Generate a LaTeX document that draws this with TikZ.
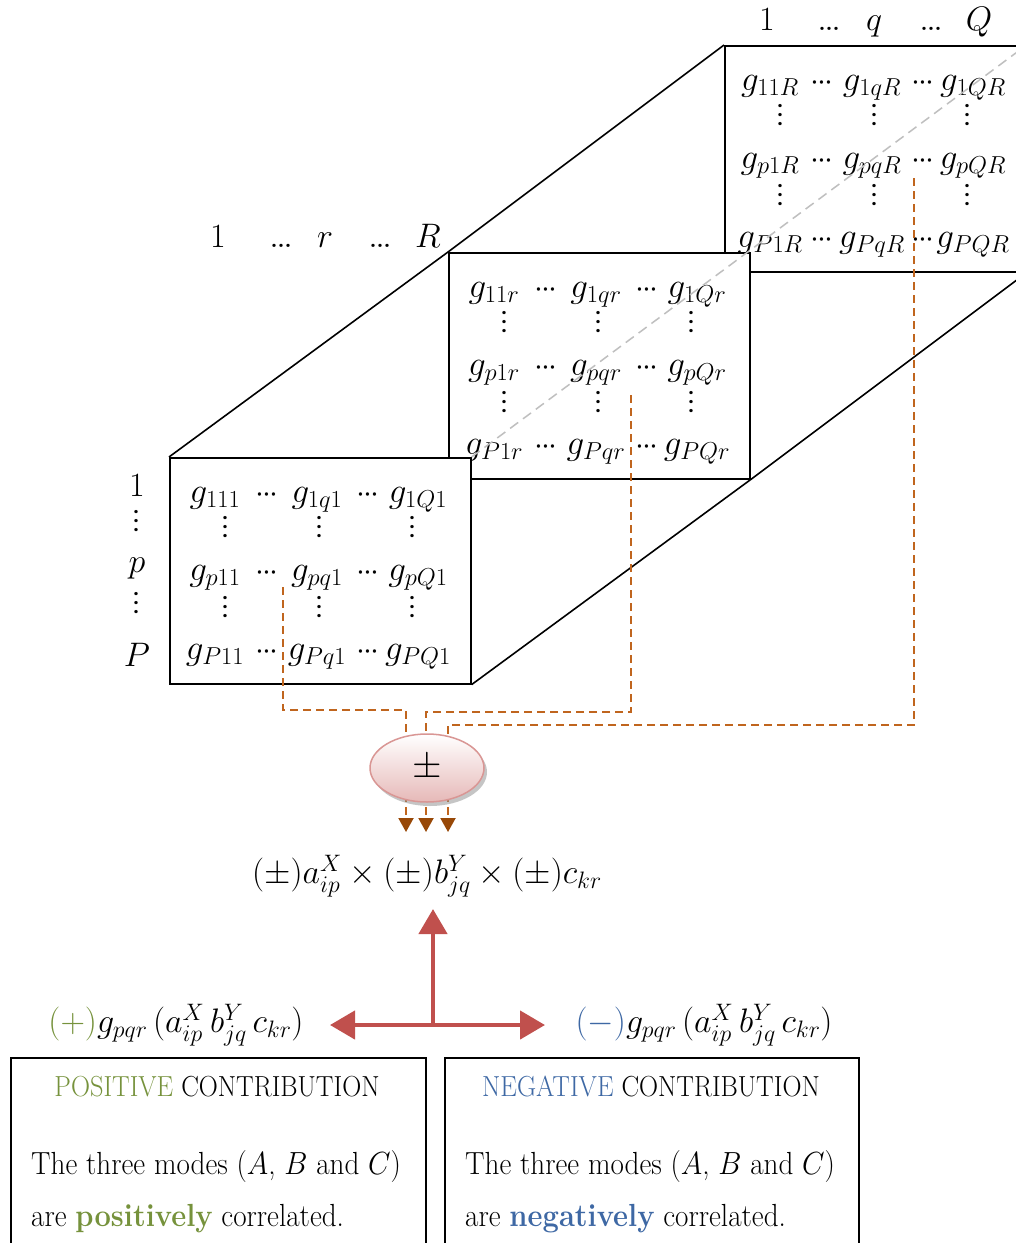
\RequirePackage{fix-cm}
\documentclass[tikz,border=0pt]{standalone}
\usepackage{fontspec}
\usetikzlibrary{arrows.meta,shadows,calc,shapes.geometric}
\definecolor{brownL}{HTML}{C0651E}
\definecolor{brownD}{HTML}{984807}
\definecolor{redA}{HTML}{C0504D}
\definecolor{posG}{HTML}{76923C}
\definecolor{negB}{HTML}{3E68A4}
\definecolor{pinkB}{HTML}{D99694}
\definecolor{pinkF}{HTML}{E6B9B8}
\newcommand\hd{{\fontsize{32}{34}\selectfont$\mathord{\cdot}\kern-1.6pt\mathord{\cdot}\kern-1.6pt\mathord{\cdot}$}}
\newcommand\vd{\rotatebox{90}{$\mathord{\cdot}\kern0.6pt\mathord{\cdot}\kern0.6pt\mathord{\cdot}$}}
\newcommand\ld{{\fontsize{40}{40}\selectfont .\kern-3pt.\kern-3pt.}}
\newcommand\sq[1]{\scalebox{0.91}[1]{#1}}
\tikzset{
  box/.style={draw, line width=1.6pt, fill=white, inner sep=0pt, anchor=north west,
    minimum width=301pt, minimum height=226pt},
  ent/.style={inner sep=0pt, anchor=base, font=\fontsize{35}{40}\selectfont},
  dts/.style={inner sep=0pt, font=\fontsize{32}{38}\selectfont},
  lab/.style={inner sep=0pt, anchor=base, font=\fontsize{34}{40}\selectfont},
  edg/.style={line width=1.6pt},
  hid/.style={draw=black!25, line width=1.5pt, dash pattern=on 10pt off 6pt},
  brl/.style={draw=brownL, line width=2pt, dash pattern=on 8pt off 5pt},
  brarr/.style={brl, -{Triangle[length=14pt,width=15pt,color=brownD]}},
  redarr/.style={draw=redA, line width=4.5pt},
  rtip/.tip={Triangle[length=25pt,width=28pt,color=redA]},
  fml/.style={inner sep=0pt, font=\fontsize{34}{40}\selectfont},
  cbox/.style={draw, line width=1.6pt, anchor=north west, inner sep=0pt,
    minimum height=230pt},
  ttl/.style={inner sep=0pt, anchor=base, font=\fontsize{29}{34}\selectfont},
  bod/.style={inner sep=0pt, anchor=base west, font=\fontsize{32}{38}\selectfont},
}
\newcommand\gblock[4]{%
  \node[box] (#1) at (#2,#3) {};
  \foreach \rn/\dy/\ri in {a/45/1,b/123/p,c/202/P}{
    \node[ent] (#1\rn c1) at ($(#1.north west)+(46,\dy)$) {$g_{\ri 1#4}$};
    \node[ent] (#1\rn h1) at ($(#1.north west)+(98,\dy)$) {\hd};
    \node[ent] (#1\rn c2) at ($(#1.north west)+(148,\dy)$) {$g_{\ri q#4}$};
    \node[ent] (#1\rn h2) at ($(#1.north west)+(199,\dy)$) {\hd};
    \node[ent] (#1\rn c3) at ($(#1.north west)+(249,\dy)$) {$g_{\ri Q#4}$};
  }
  \foreach \vn/\dy in {v1/70,v2/150}{
    \foreach \cn/\dx in {a/57,b/151,c/244}{
      \node[dts] (#1\vn\cn) at ($(#1.north west)+(\dx,\dy)$) {\vd};
    }
  }
}
\begin{document}
\begin{tikzpicture}[x=1pt,y=-1pt]
\useasboundingbox (0,0) rectangle (1016,1243);
\clip (0,0) rectangle (1016,1243);
% tensor slices
\gblock{B}{724}{45}{R}
\gblock{M}{448}{252}{r}
\gblock{F}{169}{457}{1}
\draw[edg] (F.north west) -- (M.north west) -- (B.north west);
\draw[edg] (F.south east) -- (M.south east) -- (B.south east);
\draw[hid] (F.north east) -- (B.north east);
% index labels
\node[lab] (tq1) at (767,30) {$1$};
\node[lab] (tq2) at (829,30) {\ld};
\node[lab] (tq3) at (874,30) {$q$};
\node[lab] (tq4) at (931,30) {\ld};
\node[lab] (tq5) at (979,30) {$Q$};
\node[lab] (tr1) at (218,247) {$1$};
\node[lab] (tr2) at (281,247) {\ld};
\node[lab] (tr3) at (325,247) {$r$};
\node[lab] (tr4) at (380,247) {\ld};
\node[lab] (tr5) at (428,247) {$R$};
\node[lab] (lp1) at (137,496) {$1$};
\node[dts] (lp2) at (137,521) {\vd};
\node[lab] (lp3) at (137,572) {$p$};
\node[dts] (lp4) at (137,603) {\vd};
\node[lab] (lp5) at (137,666) {$P$};
% dashed connectors to the sign node
\coordinate (pmc) at (427,768);
\coordinate (s1) at (283,587);
\coordinate (s2) at (631,395);
\coordinate (s3) at (914,178);
\draw[brl] (s1) |- ($(pmc)+(-21,-58)$) -- ($(pmc)+(-21,0)$);
\draw[brl] (s2) |- ($(pmc)+(-1,-56)$) -- ($(pmc)+(-1,0)$);
\draw[brl] (s3) |- ($(pmc)+(21,-43)$) -- ($(pmc)+(21,0)$);
\draw[brarr] ($(pmc)+(-21,0)$) -- ($(pmc)+(-21,64)$);
\draw[brarr] ($(pmc)+(-1,0)$) -- ($(pmc)+(-1,64)$);
\draw[brarr] ($(pmc)+(21,0)$) -- ($(pmc)+(21,64)$);
\node[ellipse, draw=pinkB, line width=1.5pt, top color=white, bottom color=pinkF,
  minimum width=114pt, minimum height=68pt, inner sep=0pt,
  drop shadow={shadow xshift=3pt, shadow yshift=-4pt, fill=black!45},
  font=\fontsize{38}{44}\selectfont] (pm) at (pmc) {$\pm$};
% product formula
\node[fml] (prod) at (427,876) {$(\pm)a^X_{ip}\times(\pm)b^Y_{jq}\times(\pm)c_{kr}$};
% red arrows
\coordinate (junc) at (433,1025);
\coordinate (lt) at (330,1025);
\coordinate (rt) at (545,1025);
\draw[redarr, {rtip}-{rtip}] (lt) -- (rt);
\draw[redarr, -{rtip}] (junc) -- ($(junc |- prod.south)+(0,12)$);
% side formulas
\node[fml] (posf) at (176,1025) {$\textcolor{posG}{(+)}g_{pqr}\,\bigl(a^X_{ip}\,b^Y_{jq}\,c_{kr}\bigr)$};
\node[fml] (negf) at (704,1025) {$\textcolor{negB}{(-)}g_{pqr}\,\bigl(a^X_{ip}\,b^Y_{jq}\,c_{kr}\bigr)$};
% contribution boxes
\node[cbox, minimum width=415pt] (pbox) at (10,1057) {};
\node[cbox, minimum width=414pt] (nbox) at (444,1057) {};
\node[ttl] (pt) at (217,1096) {\sq{\textcolor{posG}{POSITIVE} CONTRIBUTION}};
\node[ttl] (nt) at (651,1096) {\sq{\textcolor{negB}{NEGATIVE} CONTRIBUTION}};
\node[bod] (pl1) at (31,1174) {\sq{The three modes ($A$, $B$ and $C$)}};
\node[bod] (pl2) at (31,1226) {\sq{are \textbf{\textcolor{posG}{positively}} correlated.}};
\node[bod] (nl1) at (465,1174) {\sq{The three modes ($A$, $B$ and $C$)}};
\node[bod] (nl2) at (465,1226) {\sq{are \textbf{\textcolor{negB}{negatively}} correlated.}};
\end{tikzpicture}
\end{document}
